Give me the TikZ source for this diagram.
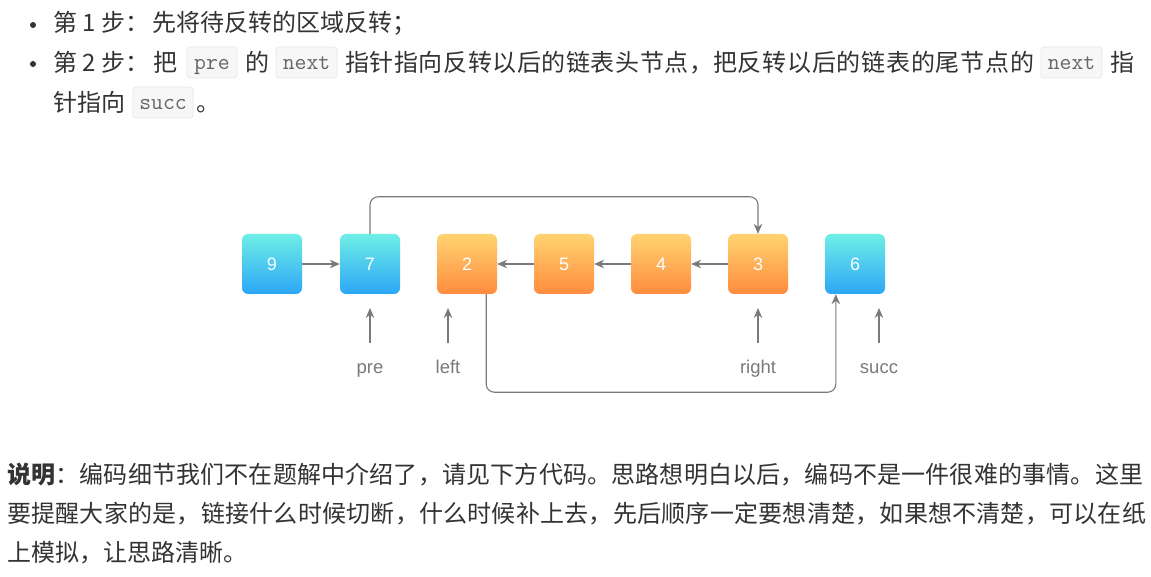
\documentclass[tikz,border=0pt]{standalone}
\usepackage{fontspec}
\setmainfont{Liberation Sans}
\newfontfamily\cjk{Noto Sans CJK SC}
\usetikzlibrary{arrows.meta}

% \spreadtext{abc} puts \hfil between consecutive characters,
% so that \makebox[<w>][s]{...} spreads a justified line evenly
\def\spreadtext#1{\spreadfirst#1\relax}
\def\spreadfirst#1{\ifx#1\relax\else#1\expandafter\spreadrest\fi}
\def\spreadrest#1{\ifx#1\relax\else\hfil#1\expandafter\spreadrest\fi}

\definecolor{txt}{HTML}{333333}
\definecolor{codebg}{HTML}{F7F7F7}
\definecolor{codeln}{HTML}{E8E8E8}
\definecolor{codetx}{HTML}{666666}
\definecolor{cyanT}{HTML}{6EEEE6}
\definecolor{cyanB}{HTML}{2CA6F6}
\definecolor{orgT}{HTML}{FFD371}
\definecolor{orgB}{HTML}{FF8B3E}
\definecolor{wire}{HTML}{7A7A7A}

\tikzset{
  cjktext/.style={anchor=base west, inner sep=0pt, text=txt,
    font=\cjk\fontsize{24}{24}\selectfont},
  codebox/.style={draw=codeln, fill=codebg, rounded corners=3pt, inner sep=0pt,
    minimum height=31pt, text=codetx, line width=0.8pt,
    font=\ttfamily\fontsize{23}{23}\selectfont,
    text height=18pt, text depth=3pt},
  listnode/.style={rounded corners=6pt, minimum size=60pt, inner sep=0pt,
    text=white, font=\fontsize{18}{18}\selectfont},
  bluenode/.style={listnode, top color=cyanT, bottom color=cyanB},
  orangenode/.style={listnode, top color=orgT, bottom color=orgB},
  link/.style={draw=wire, line width=1.3pt, -{Stealth[length=10pt,width=8.5pt]}},
  ptrlabel/.style={anchor=base, inner sep=0pt, text=wire,
    font=\fontsize{18.5}{18.5}\selectfont},
}

\begin{document}
\begin{tikzpicture}[x=1pt, y=-1pt]
  \useasboundingbox (0,0) rectangle (1151,577);
  \fill[white] (0,0) rectangle (1151,577);

  % ---- step list ----
  \fill[txt] (33,25) circle (3pt);
  \fill[txt] (33,64) circle (3pt);
  \node[cjktext] (s1) at (53,32) {第 1 步：\hspace{3pt}先将待反转的区域反转；};

  \node[cjktext] (s2a) at (53,72) {第 2 步：\hspace{4pt}把};
  \node[codebox, minimum width=50pt] (c1) at (212,62.5) {pre};
  \node[cjktext] (s2b) at (245,72) {的};
  \node[codebox, minimum width=61pt] (c2) at (306.5,62.5) {next};
  \node[cjktext] (s2c) at (345,72)
    {\makebox[368pt][s]{\spreadtext{指针指向反转以后的链表头节点，}}};
  \node[cjktext] (s2d) at (713,72)
    {\makebox[321pt][s]{\spreadtext{把反转以后的链表的尾节点的}}};
  \node[codebox, minimum width=61pt] (c3) at (1071.5,62.5) {next};
  \node[cjktext] (s2e) at (1110,72) {指};

  \node[cjktext] (s3a) at (53,112) {针指向};
  \node[codebox, minimum width=60pt] (c4) at (163,102.5) {succ};
  \node[cjktext] (s3b) at (196,112) {。};

  % ---- linked list ----
  \node[bluenode]   (n9) at (272,264) {9};
  \node[bluenode]   (n7) at (370,264) {7};
  \node[orangenode] (n2) at (467,264) {2};
  \node[orangenode] (n5) at (564,264) {5};
  \node[orangenode] (n4) at (661,264) {4};
  \node[orangenode] (n3) at (758,264) {3};
  \node[bluenode]   (n6) at (855,264) {6};

  \draw[link] (n9) -- (n7);
  \draw[link] (n5) -- (n2);
  \draw[link] (n4) -- (n5);
  \draw[link] (n3) -- (n4);

  \draw[link, line width=1.1pt, rounded corners=8pt]
    (n7.north) -- ++(0,-37) -| (n3.north);
  \draw[link, line width=1.1pt, rounded corners=8pt]
    ([xshift=-11pt]n2.south east) -- ++(0,98) -| ([xshift=11pt]n6.south west);

  % ---- pointers ----
  \node[ptrlabel] (lpre)   at (370,373) {pre};
  \node[ptrlabel] (lleft)  at (448,373) {left};
  \node[ptrlabel] (lright) at (758,373) {right};
  \node[ptrlabel] (lsucc)  at (879,373) {succ};

  \coordinate (tpre)   at (370,343); \coordinate (hpre)   at (370,308);
  \coordinate (tleft)  at (448,343); \coordinate (hleft)  at (448,308);
  \coordinate (tright) at (758,343); \coordinate (hright) at (758,308);
  \coordinate (tsucc)  at (879,343); \coordinate (hsucc)  at (879,308);
  \draw[link] (tpre) -- (hpre);
  \draw[link] (tleft) -- (hleft);
  \draw[link] (tright) -- (hright);
  \draw[link] (tsucc) -- (hsucc);

  % ---- note ----
  \node[cjktext] (p1) at (7,483)
    {\makebox[1136pt][s]{{\bfseries\spreadtext{说明}}\hfil\spreadtext{：编码细节我们不在题解中介绍了，请见下方代码。思路想明白以后，编码不是一件很难的事情。这里}}};
  \node[cjktext] (p2) at (7,522)
    {\makebox[1139pt][s]{\spreadtext{要提醒大家的是，链接什么时候切断，什么时候补上去，先后顺序一定要想清楚，如果想不清楚，可以在纸}}};
  \node[cjktext] (p3) at (7,561) {上模拟，让思路清晰。};
\end{tikzpicture}
\end{document}
